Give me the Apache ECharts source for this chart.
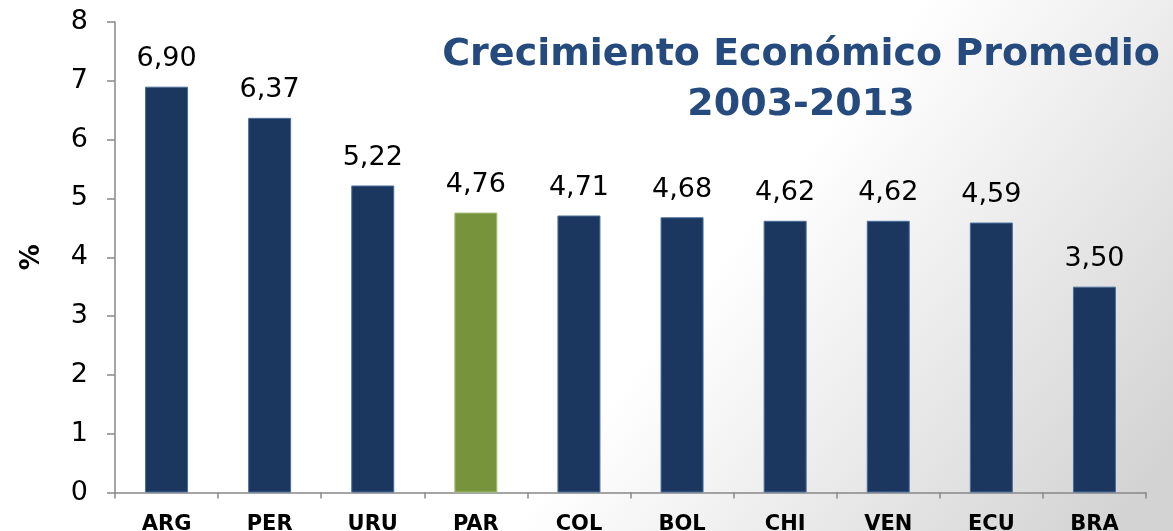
<!DOCTYPE html>
<html>
<head>
<meta charset="utf-8">
<script src="https://cdn.jsdelivr.net/npm/echarts@6/dist/echarts.min.js"></script>
<style>
  html, body { margin: 0; padding: 0; }
  #chart { width: 1173px; height: 531px; }
</style>
</head>
<body>
<div id="chart"></div>
<script>
// datos: crecimiento economico promedio 2003-2013 (%)
var paises = ['ARG', 'PER', 'URU', 'PAR', 'COL', 'BOL', 'CHI', 'VEN', 'ECU', 'BRA'];
var crecimiento = [6.90, 6.37, 5.22, 4.76, 4.71, 4.68, 4.62, 4.62, 4.59, 3.50];
var destacado = 'PAR';
var yTicks = [0, 1, 2, 3, 4, 5, 6, 7, 8];

var azul = '#1b375f';
var verde = '#77933c';

var chart = echarts.init(document.getElementById('chart'));

var option = {
    backgroundColor: new echarts.graphic.LinearGradient(0.68, 0.3, 1, 0.85, [
        { offset: 0, color: '#ffffff' },
        { offset: 1, color: '#d3d3d3' }
    ]),
    title: {
        text: 'Crecimiento Económico Promedio\n2003-2013',
        left: 796,
        top: 25,
        textAlign: 'center',
        textStyle: {
            fontFamily: 'DejaVu Sans',
            fontWeight: 'bold',
            fontSize: 38,
            lineHeight: 50,
            color: '#244a7e'
        }
    },
    grid: {
        left: 115,
        right: 27,
        top: 22,
        bottom: 38.5,
        outerBoundsMode: 'none'
    },
    xAxis: {
        type: 'category',
        data: paises,
        axisLine: { lineStyle: { color: '#888888', width: 1.5 } },
        axisTick: { show: true, length: 6, lineStyle: { color: '#888888', width: 1.5 } },
        axisLabel: {
            margin: 22,
            fontFamily: 'DejaVu Sans',
            fontWeight: 'bold',
            fontSize: 21,
            color: '#000'
        }
    },
    yAxis: {
        type: 'value',
        min: yTicks[0],
        max: yTicks[yTicks.length - 1],
        interval: 1,
        name: '%',
        nameLocation: 'middle',
        nameGap: 70,
        nameRotate: 90,
        nameTextStyle: {
            fontFamily: 'DejaVu Sans',
            fontWeight: 'bold',
            fontSize: 26,
            color: '#000'
        },
        splitLine: { show: false },
        axisLine: { show: true, lineStyle: { color: '#888888', width: 1.5 } },
        axisTick: { show: true, length: 8, lineStyle: { color: '#888888', width: 1.5 } },
        axisLabel: {
            margin: 27,
            fontFamily: 'DejaVu Sans',
            fontSize: 27,
            color: '#000'
        }
    },
    series: [{
        type: 'bar',
        barWidth: 43,
        data: paises.map(function (p, i) {
            return {
                value: crecimiento[i],
                itemStyle: {
                    color: p === destacado ? verde : azul,
                    borderColor: p === destacado ? '#a6c27a' : '#4a6f9c',
                    borderWidth: 1
                }
            };
        }),
        label: {
            show: true,
            position: 'top',
            distance: 14,
            fontFamily: 'DejaVu Sans',
            fontSize: 27,
            color: '#000',
            formatter: function (p) {
                return p.value.toFixed(2).replace('.', ',');
            }
        }
    }]
};

chart.setOption(option);
window.addEventListener('resize', function () {
    chart.resize();
});
</script>
</body>
</html>
